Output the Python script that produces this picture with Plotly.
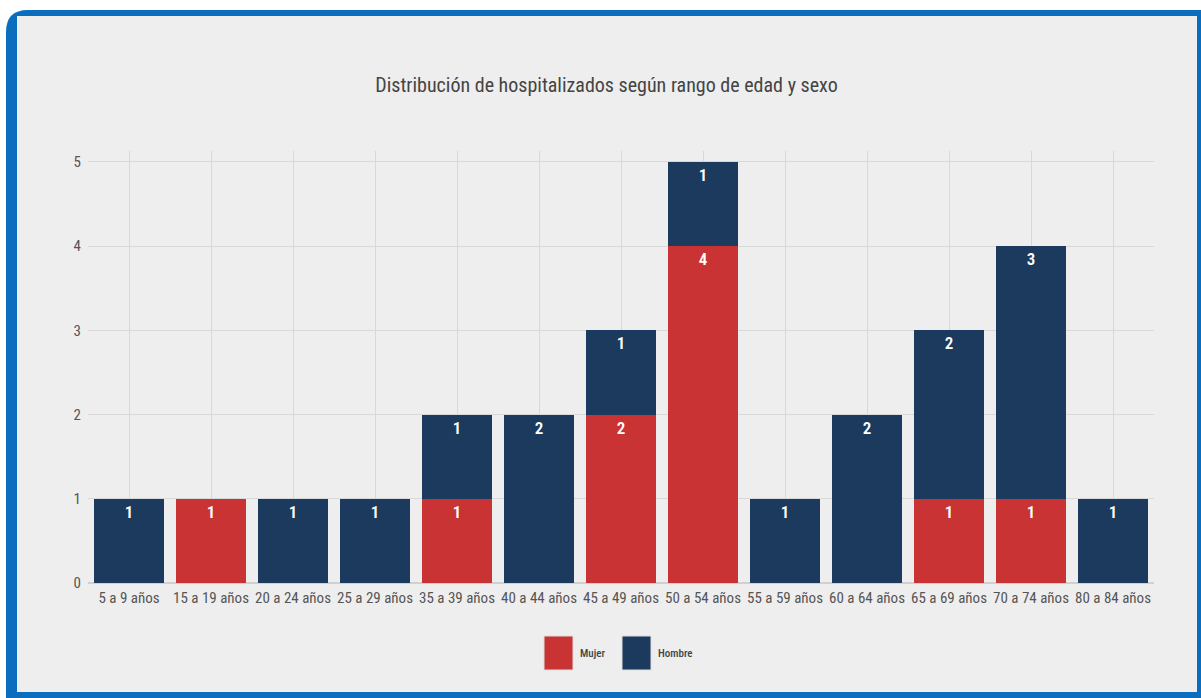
import plotly.graph_objects as go

# datos
rangos = ["5 a 9 años", "15 a 19 años", "20 a 24 años", "25 a 29 años", "35 a 39 años",
          "40 a 44 años", "45 a 49 años", "50 a 54 años", "55 a 59 años", "60 a 64 años",
          "65 a 69 años", "70 a 74 años", "80 a 84 años"]
mujer = [0, 1, 0, 0, 1, 0, 2, 4, 0, 0, 1, 1, 0]
hombre = [1, 0, 1, 1, 1, 2, 1, 1, 1, 2, 2, 3, 1]

ROJO = "#c93333"
AZUL = "#1b3a5e"
BORDE = "#0a6dbd"
FUENTE = "Roboto Condensed, Liberation Sans Narrow, DejaVu Sans"

W, H = 1201, 698
ML, MR, MT, MB = 88, 47, 151, 115
PW, PH = W - ML - MR, H - MT - MB


def px(x):
    return (x - ML) / PW


def py(y):
    return (H - MB - y) / PH


def sin_ceros(vals):
    return [v if v else None for v in vals]


def fuente(size, color, **kw):
    return dict(family=FUENTE, size=size, color=color, **kw)


fig = go.Figure()
for nombre, vals, color in [("Mujer", mujer, ROJO), ("Hombre", hombre, AZUL)]:
    v = sin_ceros(vals)
    fig.add_trace(go.Bar(
        x=rangos, y=v, name=nombre,
        marker=dict(color=color, line=dict(width=0)),
        text=v, textposition="inside", insidetextanchor="end",
        textfont=fuente(17, "white", weight=600),
        showlegend=False,
    ))

# marco azul con esquina redondeada
r = 22
x0, y0, x1, y1 = px(6), py(10), px(1210), py(708)
fig.add_shape(type="path", xref="paper", yref="paper", layer="below",
              path=f"M {x0 + r / PW},{y0} L {x1},{y0} L {x1},{y1} L {x0},{y1} "
                   f"L {x0},{y0 - r / PH} Q {x0},{y0} {x0 + r / PW},{y0} Z",
              fillcolor=BORDE, line=dict(width=0))
fig.add_shape(type="rect", xref="paper", yref="paper", layer="below",
              x0=px(17), y0=py(16), x1=px(1197), y1=py(692),
              fillcolor="#eeeeee", line=dict(width=0))

# leyenda dibujada a mano (cuadros grandes)
for nombre, color, xs in [("Mujer", ROJO, 544), ("Hombre", AZUL, 622)]:
    fig.add_shape(type="rect", xref="paper", yref="paper",
                  x0=px(xs), x1=px(xs + 29), y0=py(636), y1=py(670),
                  fillcolor=color, line=dict(width=1, color="#dddddd"))
    fig.add_annotation(text=nombre, xref="paper", yref="paper",
                       x=px(xs + 34), y=py(653), xanchor="left", yanchor="middle",
                       showarrow=False, font=fuente(11, "#444444", weight=500))

fig.update_layout(
    barmode="stack",
    bargap=0.15,
    width=W, height=H,
    margin=dict(l=ML, r=MR, t=MT, b=MB),
    paper_bgcolor="white",
    plot_bgcolor="rgba(0,0,0,0)",
    font=fuente(15, "#555555"),
    title=dict(text="Distribución de hospitalizados según rango de edad y sexo",
               x=0.505, xanchor="center", y=1 - 85 / H, yanchor="middle",
               font=fuente(20, "#444444")),
    xaxis=dict(showgrid=True, gridcolor="#d8d8d8", tickfont=fuente(15, "#555555"),
               tickangle=0, showline=False, ticks="", ticklabelstandoff=4),
    yaxis=dict(range=[0, 5.13], dtick=1, showgrid=True, gridcolor="#d8d8d8",
               zeroline=True, zerolinecolor="#d0d0d0", tickfont=fuente(15, "#555555"),
               ticklabelstandoff=6),
)

ajustes = (
    "document.body.style.margin='0';"
    "var s=document.createElement('style');"
    "s.textContent='svg text{font-stretch:condensed !important;}';"
    "document.head.appendChild(s);"
)
fig.write_html("out.html", post_script=ajustes, config={"displayModeBar": False})
